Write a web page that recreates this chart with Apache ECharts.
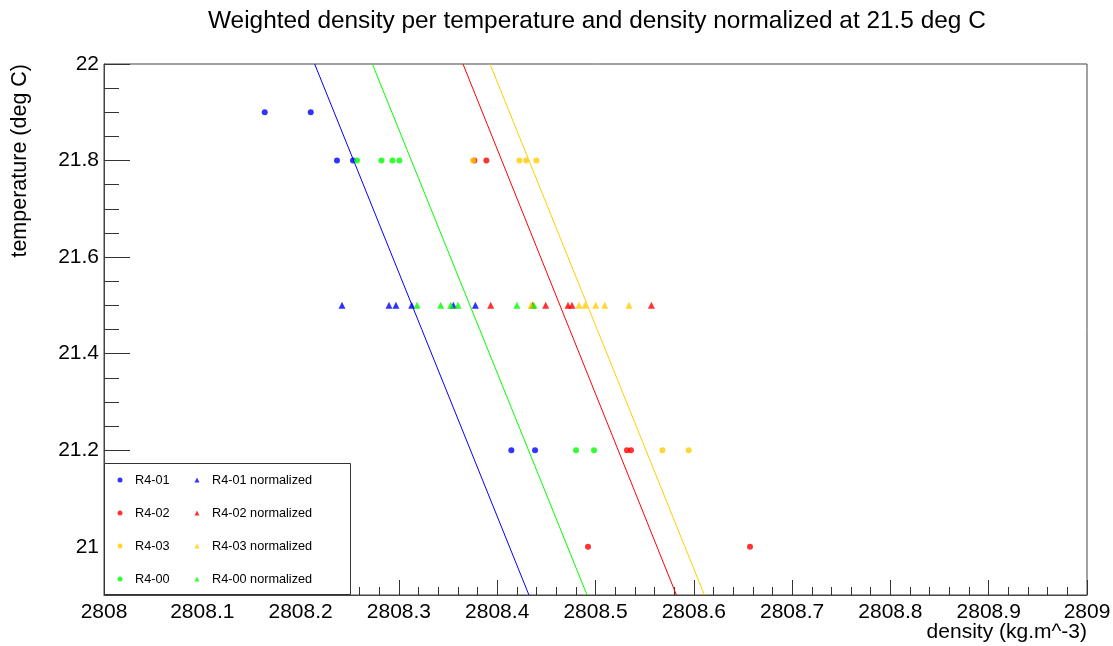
<!DOCTYPE html>
<html>
<head>
<meta charset="utf-8">
<script src="https://cdn.jsdelivr.net/npm/echarts@6/dist/echarts.min.js"></script>
<style>html,body{margin:0;padding:0;background:#fff}#c{width:1113px;height:646px}</style>
</head>
<body>
<div id="c"></div>
<script>
// ---- data (density kg.m^-3, temperature deg C) ----
const r401 = [[2808.1635,21.9],[2808.2103,21.9],[2808.2370,21.8],[2808.2533,21.8],[2808.4144,21.2],[2808.4385,21.2]];
const r401n = [[2808.2421,21.5],[2808.2899,21.5],[2808.2970,21.5],[2808.3130,21.5],[2808.3554,21.5],[2808.3778,21.5]];
const r402 = [[2808.3768,21.8],[2808.3890,21.8],[2808.5320,21.2],[2808.5361,21.2],[2808.4924,21.0],[2808.6572,21.0]];
const r402n = [[2808.3934,21.5],[2808.4361,21.5],[2808.4493,21.5],[2808.4720,21.5],[2808.4761,21.5],[2808.5569,21.5]];
const r403 = [[2808.3754,21.8],[2808.4226,21.8],[2808.4295,21.8],[2808.4399,21.8],[2808.5681,21.2],[2808.5948,21.2]];
const r403n = [[2808.4344,21.5],[2808.4832,21.5],[2808.4893,21.5],[2808.5002,21.5],[2808.5094,21.5],[2808.5341,21.5]];
const r400 = [[2808.2574,21.8],[2808.2822,21.8],[2808.2934,21.8],[2808.3005,21.8],[2808.4802,21.2],[2808.4985,21.2]];
const r400n = [[2808.3184,21.5],[2808.3425,21.5],[2808.3527,21.5],[2808.3601,21.5],[2808.4201,21.5],[2808.4374,21.5]];
// fitted lines (endpoints at top / bottom of frame)
const fit401 = [[2808.2143,22],[2808.4323,20.9]];
const fit400 = [[2808.2730,22],[2808.4914,20.9]];
const fit402 = [[2808.3652,22],[2808.5823,20.9]];
const fit403 = [[2808.3927,22],[2808.6108,20.9]];
// axis ticks
const xTicks = [2808,2808.1,2808.2,2808.3,2808.4,2808.5,2808.6,2808.7,2808.8,2808.9,2809];
const yTicks = [21,21.2,21.4,21.6,21.8,22];
const yMinorTicks = [20.95,21.05,21.1,21.15,21.25,21.3,21.35,21.45,21.5,21.55,21.65,21.7,21.75,21.85,21.9,21.95];
const names = ['R4-01','R4-01 normalized','R4-02','R4-02 normalized','R4-03','R4-03 normalized','R4-00','R4-00 normalized'];

const BLUE='#0000ff', RED='#ff0000', ORANGE='#ffcc00', GREEN='#00ff00';
const FONT='Liberation Sans, Arial, sans-serif';

function line(data,color){
  return {type:'line',data:data,showSymbol:false,symbol:'none',lineStyle:{color:color,width:1},
    itemStyle:{color:color},silent:true,z:1,clip:true};
}
function pts(name,data,color,tri){
  return {type:'scatter',name:name,data:data,symbol:tri?'triangle':'circle',symbolSize:tri?7:6,
    itemStyle:{color:color},z:3,silent:true};
}
const legendPos = [[117.5,473],[194.5,473],[117.5,506],[194.5,506],[117.5,539],[194.5,539],[117.5,572],[194.5,572]];
const legends = names.map((n,i)=>({
  data:[{name:n,icon:(i%2)?'triangle':'circle'}],
  left:legendPos[i][0], top:legendPos[i][1], padding:0, itemWidth:5, itemHeight:5,
  itemGap:0, selectedMode:false, z:60,
  textStyle:{fontSize:12.7,fontFamily:FONT,color:'#000',lineHeight:14,padding:[0,0,0,7.5]}
}));

const chart = echarts.init(document.getElementById('c'),null,{renderer:'canvas'});
chart.setOption({
  animation:false,
  backgroundColor:'#fff',
  title:{text:'Weighted density per temperature and density normalized at 21.5 deg C',left:203,top:4,
    textStyle:{fontSize:24.4,fontWeight:'normal',fontFamily:FONT,color:'#000'}},
  grid:{left:104,right:26,top:64,bottom:51,show:true,borderColor:'#444',borderWidth:1,backgroundColor:'#fff',
    outerBoundsMode:'none',containLabel:false},
  legend:legends,
  xAxis:[{type:'value',min:2808,max:2809,interval:0.1,position:'bottom',
    name:'density (kg.m^-3)',nameLocation:'end',nameGap:0,nameMoveOverlap:false,
    nameTextStyle:{fontSize:21,fontFamily:FONT,color:'#000',align:'right',verticalAlign:'top',padding:[27,0,0,0]},
    axisLine:{show:true,lineStyle:{color:'#444',width:1}},
    axisTick:{show:true,inside:true,length:15,lineStyle:{color:'#333',width:1}},
    minorTick:{show:true,splitNumber:5,length:8,lineStyle:{color:'#333',width:1}},
    axisLabel:{customValues:xTicks,fontSize:21,fontFamily:FONT,color:'#000',margin:7,hideOverlap:false,
      formatter:v=>String(parseFloat(Number(v).toFixed(1)))},
    splitLine:{show:false},minorSplitLine:{show:false}}],
  yAxis:[{type:'value',min:20.9,max:22,position:'left',
    name:'temperature (deg C)',nameLocation:'end',nameGap:0,nameRotate:90,nameMoveOverlap:false,
    nameTextStyle:{fontSize:21.5,fontFamily:FONT,color:'#000',align:'right',verticalAlign:'bottom',padding:[0,0,73,0]},
    axisLine:{show:true,lineStyle:{color:'#444',width:1}},
    axisTick:{show:true,inside:true,length:26,customValues:yTicks,lineStyle:{color:'#333',width:1}},
    axisLabel:{customValues:yTicks,fontSize:21,fontFamily:FONT,color:'#000',margin:5,
      formatter:v=>String(parseFloat(Number(v).toFixed(1)))},
    splitLine:{show:false}},
   {type:'value',min:20.9,max:22,position:'left',offset:0,
    axisLine:{show:false},axisLabel:{show:false},splitLine:{show:false},
    axisTick:{show:true,inside:true,length:15,customValues:yMinorTicks,lineStyle:{color:'#333',width:1}}}],
  graphic:[{type:'rect',z:50,shape:{x:104.5,y:463.5,width:246,height:131},
    style:{fill:'#fff',stroke:'#333',lineWidth:1}}],
  series:[
    line(fit401,BLUE), line(fit400,GREEN), line(fit402,RED), line(fit403,ORANGE),
    pts(names[0],r401,BLUE,false), pts(names[1],r401n,BLUE,true),
    pts(names[2],r402,RED,false), pts(names[3],r402n,RED,true),
    pts(names[4],r403,ORANGE,false), pts(names[5],r403n,ORANGE,true),
    pts(names[6],r400,GREEN,false), pts(names[7],r400n,GREEN,true)
  ]
});
</script>
</body>
</html>
